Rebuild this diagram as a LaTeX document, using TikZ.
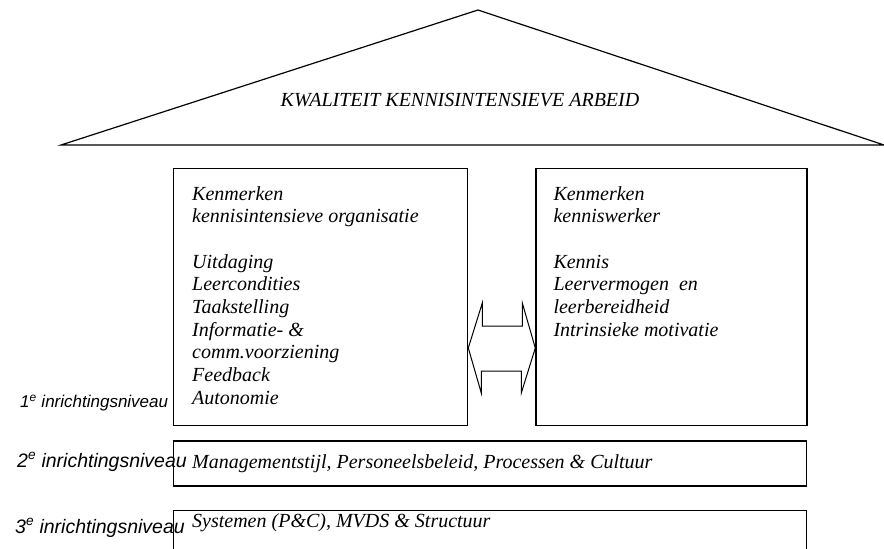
\documentclass[tikz,border=0pt]{standalone}
\usepackage{fontspec}
\setmainfont{Liberation Serif}
\setsansfont{Liberation Sans}
\usetikzlibrary{positioning}

\begin{document}
\begin{tikzpicture}[
    x=1pt, y=-1pt,
    box/.style={rectangle, draw, line width=1.3pt, inner sep=0pt, anchor=north west},
    txt/.style={inner sep=0pt, align=left, font=\fontsize{20}{22.7}\selectfont\itshape},
    level/.style={inner sep=0pt, anchor=west, font=\fontsize{19.5}{22}\selectfont\sffamily\itshape},
    blockarrow/.style={draw, line width=1pt, line join=miter}
]
\useasboundingbox (0,0) rectangle (884,549);
\clip (0,0) rectangle (884,549);

% Roof
\coordinate (eaveL) at (61,145);
\coordinate (ridge) at (478,10);
\coordinate (eaveR) at (884,145);
\draw[line width=1.2pt] (eaveL) -- (ridge) -- (eaveR) -- cycle;
\node[txt] (title) at (460,100) {KWALITEIT KENNISINTENSIEVE ARBEID};

% 1e niveau: organisatie en kenniswerker
\node[box, minimum width=294, minimum height=257] (orgbox) at (173,168) {};
\node[box, minimum width=271, minimum height=257, right=67pt of orgbox] (wrkbox) {};

\node[txt, below right=18pt and 19pt of orgbox.north west] (orgtxt) {Kenmerken\\kennisintensieve organisatie\\[22.7pt]Uitdaging\\Leercondities\\Taakstelling\\Informatie- \&\\comm.voorziening\\Feedback\\Autonomie};
\node[txt, below right=18pt and 18pt of wrkbox.north west] (wrktxt) {Kenmerken\\kenniswerker\\[22.7pt]Kennis\\Leervermogen\ \ en\\leerbereidheid\\Intrinsieke motivatie};

% Double arrow between the boxes
\coordinate (tipL) at (orgbox.east |- 0,348);
\coordinate (tipR) at (wrkbox.west |- 0,348);
\draw[blockarrow] (tipL) -- ++(14,-45) -- ++(0,23) -- ++(40,0) -- ++(0,-23) -- (tipR)
    -- ++(-14,45) -- ++(0,-22) -- ++(-40,0) -- ++(0,22) -- cycle;

% 2e and 3e niveau
\node[box, minimum width=633, minimum height=45, below right=14pt and 0pt of orgbox.south west] (mgtbox) {};
\node[box, minimum width=633, minimum height=60, below right=23pt and 0pt of mgtbox.south west] (sysbox) {};

\node[txt, anchor=west] (mgttxt) at ([xshift=19pt]mgtbox.west) {Managementstijl, Personeelsbeleid, Processen \& Cultuur};
\node[txt, anchor=west] (systxt) at (192,523) {Systemen (P\&C), MVDS \& Structuur};

% Levels
\node[level, font=\fontsize{17}{20}\selectfont\sffamily\itshape] (niv1) at (20,403) {1\textsuperscript{e} inrichtingsniveau};
\node[level] (niv2) at (17,462) {2\textsuperscript{e} inrichtingsniveau};
\node[level] (niv3) at (15,528) {3\textsuperscript{e} inrichtingsniveau};

\end{tikzpicture}
\end{document}
